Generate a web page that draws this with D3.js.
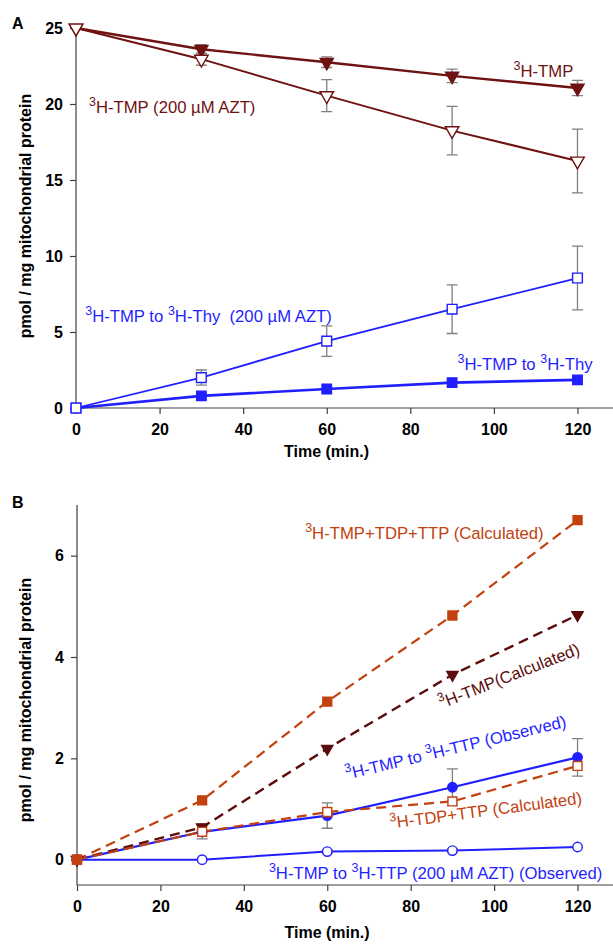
<!DOCTYPE html>
<html>
<head>
<meta charset="utf-8">
<script src="https://cdn.jsdelivr.net/npm/d3@7"></script>
<style>
  body { margin: 0; background: #fff; }
  svg { font-family: "Liberation Sans", Arial, sans-serif; }
  .axis path, .axis line { stroke: #404040; stroke-width: 1.2; }
  .axis text { font-size: 16px; font-weight: bold; fill: #000; }
  .title { font-size: 16px; font-weight: bold; }
  .lbl { font-size: 16.7px; }
</style>
</head>
<body>
<script>
// time points (min.)
const times = [0, 30, 60, 90, 120];
const xTicks = [0, 20, 40, 60, 80, 100, 120];
const yTicksA = [0, 5, 10, 15, 20, 25];
const yTicksB = [0, 2, 4, 6];

// panel A values, pmol / mg
const tmp      = [25, 23.6, 22.75, 21.85, 21.05];
const tmpErr   = [0, 0.3, 0.35, 0.45, 0.5];
const tmpAzt   = [25, 22.95, 20.55, 18.25, 16.25];
const tmpAztErr= [0, 0.4, 1.05, 1.6, 2.1];
const thyAzt   = [0, 2.0, 4.4, 6.5, 8.55];
const thyAztErr= [0, 0.5, 1.0, 1.6, 2.1];
const thy      = [0, 0.8, 1.25, 1.67, 1.85];

// panel B values
const calcTotal    = [0, 1.17, 3.12, 4.82, 6.70];
const calcTmp      = [0, 0.64, 2.19, 3.65, 4.83];
const calcTmpErr   = [0, 0.06, 0, 0, 0];
const obsTtp       = [0, 0.55, 0.87, 1.43, 2.02];
const obsTtpErr    = [0, 0, 0.25, 0.36, 0.37];
const calcTdpTtp   = [0, 0.55, 0.94, 1.15, 1.85];
const calcTdpTtpErr= [0, 0.14, 0, 0, 0];
const obsTtpAzt    = [0, 0, 0.16, 0.18, 0.25];
const obsTtpAztErr = [0, 0, 0.03, 0.03, 0];

const W = 613, H = 945;
const maroon = "#6e1212", maroonB = "#5c0c0c", orange = "#c2410f", blue = "#1f1fff";

const svg = d3.select("body").append("svg").attr("width", W).attr("height", H);

function panel(opt) {
  const x = d3.scaleLinear().domain([0, 128.5]).range([opt.left, 613]);
  const y = d3.scaleLinear().domain(opt.ydom).range([opt.bottom, opt.top]);
  const g = svg.append("g");

  g.append("g").attr("class", "axis")
      .attr("transform", `translate(0,${opt.bottom})`)
      .call(d3.axisBottom(x).tickValues(xTicks).tickSize(6).tickPadding(10).tickSizeOuter(0))
      .call(a => a.select(".domain").attr("d", `M${opt.left},0H613`));
  g.append("g").attr("class", "axis")
      .attr("transform", `translate(${opt.left},0)`)
      .call(d3.axisLeft(y).tickValues(opt.yticks).tickSize(6).tickPadding(7).tickSizeOuter(0))
      .call(a => a.select(".domain").attr("d", `M0,${opt.top}V${opt.bottom}`));

  g.append("text").attr("class", "title")
      .attr("x", (opt.left + 577) / 2).attr("y", opt.bottom + opt.xtitle)
      .attr("text-anchor", "middle").text("Time (min.)");
  g.append("text").attr("class", "title")
      .attr("transform", `translate(31,${(opt.top + opt.bottom) / 2 + opt.ylShift}) rotate(-90)`)
      .attr("text-anchor", "middle").text("pmol / mg mitochondrial protein");
  g.append("text").attr("class", "title")
      .attr("x", 12).attr("y", opt.letterY).text(opt.letter);

  const line = vals => d3.line().x((d, i) => x(times[i])).y(d => y(d))(vals);

  // error bars first
  opt.series.forEach(s => {
    if (!s.err) return;
    s.vals.forEach((v, i) => {
      const e = s.err[i];
      if (!e) return;
      const cx = x(times[i]), y0 = y(v - e), y1 = y(v + e);
      g.append("path").attr("fill", "none").attr("stroke", "#808080").attr("stroke-width", 1.3)
        .attr("d", `M${cx},${y0}V${y1}M${cx - 5.5},${y0}H${cx + 5.5}M${cx - 5.5},${y1}H${cx + 5.5}`);
    });
  });
  opt.series.forEach(s => {
    g.append("path").attr("fill", "none").attr("stroke", s.color)
      .attr("stroke-width", s.width || 2)
      .attr("stroke-dasharray", s.dash || null)
      .attr("d", line(s.vals));
  });
  opt.series.forEach(s => {
    const sym = d3.symbol().type(s.shape).size(s.size);
    g.append("g").selectAll("path").data(s.vals).join("path")
      .attr("d", sym)
      .attr("transform", (d, i) => `translate(${x(times[i])},${y(d)})${s.down ? " rotate(180)" : ""}`)
      .attr("fill", s.open ? "#fff" : s.color)
      .attr("stroke", s.color).attr("stroke-width", 1.4);
  });

  opt.labels.forEach(l => {
    const t = g.append("text").attr("class", "lbl").attr("fill", l.color)
      .attr("transform", `translate(${x(l.x)},${y(l.y)}) rotate(${l.rot || 0})`);
    l.parts.forEach(p => {
      if (p[0] === "^") {
        t.append("tspan").attr("font-size", 12.5).attr("dy", -7).text(p.slice(1));
      } else {
        t.append("tspan").attr("dy", 7).text(p);
      }
    });
    // text starts on the baseline
    t.select("tspan").attr("dy", -7);
  });
  return g;
}

const tri = d3.symbolTriangle, sq = d3.symbolSquare, circ = d3.symbolCircle;

panel({
  left: 76, top: 28, bottom: 408, ydom: [0, 25], yticks: yTicksA,
  xtitle: 49, ylShift: -2, letter: "A", letterY: 29,
  series: [
    { vals: thy, color: blue, shape: sq, size: 90, width: 2.6 },
    { vals: thyAzt, err: thyAztErr, color: blue, shape: sq, size: 95, open: true, width: 1.8 },
    { vals: tmp, err: tmpErr, color: maroon, shape: tri, size: 75, down: true, width: 2.4 },
    { vals: tmpAzt, err: tmpAztErr, color: maroon, shape: tri, size: 80, down: true, open: true, width: 2 }
  ],
  labels: [
    { x: 104.7, y: 21.8, color: maroon, parts: ["^3", "H-TMP"] },
    { x: 3.1, y: 19.4, color: maroon, parts: ["^3", "H-TMP (200 \u00b5M AZT)"] },
    { x: 2.2, y: 5.66, color: blue, parts: ["^3", "H-TMP to ", "^3", "H-Thy\u00a0\u00a0(200 \u00b5M AZT)"] },
    { x: 91.3, y: 2.5, color: blue, parts: ["^3", "H-TMP to ", "^3", "H-Thy"] }
  ]
});

panel({
  left: 77, top: 505, bottom: 885, ydom: [-0.5, 7], yticks: yTicksB,
  xtitle: 53, ylShift: 5, letter: "B", letterY: 508,
  series: [
    { vals: obsTtpAzt, err: obsTtpAztErr, color: blue, shape: circ, size: 70, open: true, width: 2 },
    { vals: obsTtp, err: obsTtpErr, color: blue, shape: circ, size: 70, width: 2.2 },
    { vals: calcTmp, err: calcTmpErr, color: maroonB, shape: tri, size: 55, down: true, dash: "10,6", width: 2.4 },
    { vals: calcTdpTtp, err: calcTdpTtpErr, color: orange, shape: sq, size: 80, open: true, dash: "10,6", width: 2.2 },
    { vals: calcTotal, color: orange, shape: sq, size: 80, dash: "10,6", width: 2.2 }
  ],
  labels: [
    { x: 54.7, y: 6.32, color: orange, parts: ["^3", "H-TMP+TDP+TTP (Calculated)"] },
    { x: 87.4, y: 2.98, rot: -21.5, color: maroonB, parts: ["^3", "H-TMP(Calculated)"] },
    { x: 64.7, y: 1.58, rot: -13.5, color: blue, parts: ["^3", "H-TMP to ", "^3", "H-TTP (Observed)"] },
    { x: 75.2, y: 0.61, rot: -7.5, color: orange, parts: ["^3", "H-TDP+TTP (Calculated)"] },
    { x: 46, y: -0.375, color: blue, parts: ["^3", "H-TMP to ", "^3", "H-TTP (200 \u00b5M AZT) (Observed)"] }
  ]
});
</script>
</body>
</html>
